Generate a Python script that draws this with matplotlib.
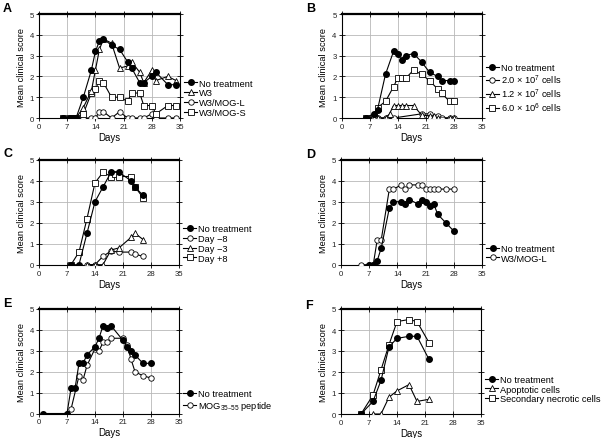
import matplotlib
matplotlib.use("Agg")
import matplotlib.pyplot as plt

plt.rcParams['font.family'] = ['Liberation Sans', 'DejaVu Sans']
plt.rcParams['mathtext.default'] = 'regular'

# Panel A
a_days = [6, 7.8, 8.5, 9.2, 11, 13, 14, 15, 16, 18, 20, 22, 23, 25, 26, 28, 29, 32, 34]
a_nt = [0, 0, 0, 0, 1.0, 2.3, 3.2, 3.7, 3.8, 3.5, 3.3, 2.7, 2.4, 1.7, 1.7, 2.0, 2.2, 1.6, 1.6]
a_w3 = [0, 0, 0, 0, 0.5, 1.3, 2.3, 3.3, 3.8, 3.6, 2.4, 2.5, 2.7, 2.2, 1.7, 2.3, 1.8, 2.0, 1.8]
a_mogl = [0, 0, 0, 0, 0, 0, 0, 0.3, 0.3, 0, 0.3, 0, 0, 0, 0, 0.2, 0, 0, 0]
a_mogs = [0, 0, 0, 0, 0.2, 1.2, 1.4, 1.8, 1.7, 1.0, 1.0, 0.8, 1.2, 1.2, 0.6, 0.6, 0.2, 0.6, 0.6]

# Panel B
b_days = [6, 8, 9, 11, 13, 14, 15, 16, 18, 20, 22, 24, 25, 27, 28]
b_nt = [0, 0.2, 0.4, 2.1, 3.2, 3.1, 2.8, 3.0, 3.1, 2.7, 2.2, 2.0, 1.8, 1.8, 1.8]
b_days_c = [6, 8, 9, 11, 13, 20, 22, 24, 25, 27, 28]
b_c = [0, 0, 0, 0, 0, 0.2, 0.2, 0.1, 0, 0, 0]
b_days_t = [6, 8, 9, 11, 12, 13, 14, 15, 16, 18, 20, 22, 23, 24, 27, 28]
b_t = [0, 0, 0, 0, 0.2, 0.6, 0.6, 0.6, 0.6, 0.6, 0.15, 0.1, 0.1, 0, 0, 0]
b_s = [0, 0, 0.5, 0.8, 1.5, 1.9, 1.9, 1.9, 2.3, 2.1, 1.8, 1.4, 1.2, 0.8, 0.8]

# Panel C
c_days_nt = [8, 10, 12, 14, 16, 18, 20, 23, 24, 26]
c_nt = [0, 0, 1.5, 3.0, 3.7, 4.4, 4.4, 4.0, 3.7, 3.3]
c_days_lo = [12, 14, 16, 18, 20, 23, 24, 26]
c_m8 = [0, 0, 0.4, 0.65, 0.6, 0.6, 0.5, 0.4]
c_m3 = [0, 0, 0, 0.7, 0.8, 1.3, 1.5, 1.2]
c_days_p8 = [8, 10, 12, 14, 16, 18, 19, 20, 23, 24, 26]
c_p8 = [0, 0.6, 2.2, 3.9, 4.4, 4.2, 4.3, 4.2, 4.2, 3.7, 3.2]

# Panel D
d_days_nt = [7, 8, 9, 10, 12, 13, 15, 16, 17, 19, 20, 21, 22, 23, 24, 26, 28]
d_nt = [0, 0, 0.2, 0.8, 2.7, 3.0, 3.0, 2.9, 3.1, 2.9, 3.1, 3.0, 2.8, 2.9, 2.4, 2.0, 1.6]
d_days_l = [5, 7, 8, 9, 10, 12, 13, 15, 16, 17, 19, 20, 21, 22, 23, 24, 26, 28]
d_l = [0, 0, 0, 1.2, 1.2, 3.6, 3.6, 3.8, 3.6, 3.8, 3.8, 3.8, 3.6, 3.6, 3.6, 3.6, 3.6, 3.6]

# Panel E
e_days_nt = [1, 7, 8, 9, 10, 11, 12, 14, 15, 16, 17, 18, 21, 22, 23, 24, 26, 28]
e_nt = [0, 0, 1.2, 1.2, 2.4, 2.4, 2.8, 3.2, 3.6, 4.2, 4.1, 4.2, 3.5, 3.2, 3.0, 2.8, 2.4, 2.4]
e_days_p = [7, 8, 10, 11, 12, 14, 15, 16, 17, 18, 21, 22, 23, 24, 26, 28]
e_p = [0, 0.2, 1.8, 1.6, 2.3, 3.1, 3.0, 3.4, 3.4, 3.6, 3.6, 3.3, 2.6, 2.0, 1.8, 1.7]

# Panel F
f_days = [5, 8, 10, 12, 14, 17, 19, 22]
f_nt = [0, 0.6, 1.6, 3.2, 3.6, 3.7, 3.7, 2.6]
f_days_apo = [8, 10, 12, 14, 17, 19, 22]
f_apo = [0, 0, 0.8, 1.1, 1.4, 0.6, 0.7]
f_sec = [0, 0.9, 2.1, 3.3, 4.4, 4.5, 4.4, 3.4]

x_ticks = [0, 7, 14, 21, 28, 35]
y_ticks = [0, 1, 2, 3, 4, 5]

# marker styles
FILLED = dict(marker='o', ms=4.0, mfc='black', mec='black')
CIRC = dict(marker='o', ms=3.9, mfc='white', mec='black', mew=0.6)
TRI = dict(marker='^', ms=4.4, mfc='white', mec='black', mew=0.6)
SQ = dict(marker='s', ms=4.6, mfc='white', mec='black', mew=0.6)

fig = plt.figure(figsize=(6.05, 4.39), dpi=100)
W, H = 605.0, 439.0


def make_ax(x0, x1, ytop, ybot):
    ax = fig.add_axes([x0 / W, 1 - ybot / H, (x1 - x0) / W, (ybot - ytop) / H])
    ax.set_xlim(0, 35)
    ax.set_ylim(0, 5)
    ax.set_xticks(x_ticks)
    ax.set_yticks(y_ticks)
    ax.grid(True, color='#b8b8b8', lw=0.6)
    ax.set_axisbelow(True)
    ax.tick_params(direction='inout', length=4, width=0.7, top=True, right=True,
                   labelsize=5.6, pad=1.5, colors='#222222')
    for s in ['left', 'bottom', 'right']:
        ax.spines[s].set_linewidth(0.8)
    ax.spines['top'].set_linewidth(1.6)
    ax.set_xlabel('Days', fontsize=6.9, labelpad=1.5)
    ax.set_ylabel('Mean clinical score', fontsize=6.7, labelpad=3)
    return ax


def add_legend(ax, yanchor):
    ax.legend(loc='lower left', bbox_to_anchor=(1.03, yanchor), frameon=False,
              fontsize=6.7, handlelength=1.4, handletextpad=0.2,
              labelspacing=0.08, borderpad=0, borderaxespad=0)


LW = 0.8

# A
ax = make_ax(39, 180, 15, 119)
ax.plot(a_days, a_nt, 'k-', lw=LW, label='No treatment', zorder=5, **FILLED)
ax.plot(a_days, a_w3, 'k-', lw=LW, label='W3', zorder=4, **TRI)
ax.plot(a_days, a_mogl, 'k-', lw=LW, label='W3/MOG-L', zorder=3, **CIRC)
ax.plot(a_days, a_mogs, 'k-', lw=LW, label='W3/MOG-S', zorder=3, **SQ)
add_legend(ax, 0.01)

# B
ax = make_ax(341.5, 481.5, 15, 119)
ax.plot(b_days, b_nt, 'k-', lw=LW, label='No treatment', zorder=5, **FILLED)
ax.plot(b_days_c, b_c, 'k-', lw=LW, label='2.0 × 10$^7$ cells', zorder=3, **CIRC)
ax.plot(b_days_t, b_t, 'k-', lw=LW, label='1.2 × 10$^7$ cells', zorder=4, **TRI)
ax.plot(b_days, b_s, 'k-', lw=LW, label='6.0 × 10$^6$ cells', zorder=3, **SQ)
add_legend(ax, 0.035)

# C
ax = make_ax(39, 179, 160.7, 265.7)
ax.plot(c_days_nt, c_nt, 'k-', lw=LW, label='No treatment', zorder=5, **FILLED)
ax.plot(c_days_lo, c_m8, 'k-', lw=LW, label='Day \u22128', zorder=3, **CIRC)
ax.plot(c_days_lo, c_m3, 'k-', lw=LW, label='Day \u22123', zorder=4, **TRI)
ax.plot(c_days_p8, c_p8, 'k-', lw=LW, label='Day +8', zorder=3, **SQ)
add_legend(ax, 0.02)

# D
ax = make_ax(341, 482, 160.7, 265.7)
ax.plot(d_days_nt, d_nt, 'k-', lw=LW, label='No treatment', zorder=5, **FILLED)
ax.plot(d_days_l, d_l, 'k-', lw=LW, label='W3/MOG-L', zorder=3, **CIRC)
add_legend(ax, 0.02)

# E
ax = make_ax(39, 179, 310, 414.5)
ax.plot(e_days_nt, e_nt, 'k-', lw=LW, label='No treatment', zorder=5, **FILLED)
ax.plot(e_days_p, e_p, 'k-', lw=LW, label='MOG$_{35\u201355}$ peptide', zorder=3, **CIRC)
add_legend(ax, 0.015)

# F
ax = make_ax(341, 481, 310, 415)
ax.plot(f_days, f_nt, 'k-', lw=LW, label='No treatment', zorder=5, **FILLED)
ax.plot(f_days_apo, f_apo, 'k-', lw=LW, label='Apoptotic cells', zorder=4, **TRI)
ax.plot(f_days, f_sec, 'k-', lw=LW, label='Secondary necrotic cells', zorder=3, **SQ)
add_legend(ax, 0.1)

# panel letters
for letter, px, py in [('A', 3, 3), ('B', 306, 3), ('C', 3, 148), ('D', 306, 149),
                       ('E', 3, 298), ('F', 305, 300)]:
    fig.text(px / W, 1 - py / H, letter, fontsize=9, fontweight='bold', va='top', ha='left')

fig.savefig('out.png', dpi=100)
